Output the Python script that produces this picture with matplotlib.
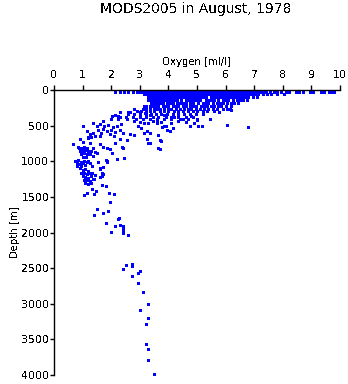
import matplotlib
matplotlib.use("Agg")
import matplotlib.pyplot as plt

plt.rcParams["font.family"] = ["DejaVu Sans"]
plt.rcParams["text.antialiased"] = False

# ---- Dissolved oxygen [ml/l] observed at near-regular depth levels (upper ocean) ----
o2_at_25m = [2.15, 2.3, 2.45, 2.6, 2.75, 2.9, 3.0, 3.1, 3.2, 3.3, 3.4, 3.5, 3.6, 3.7, 3.8,
             3.9, 4.0, 4.1, 4.2, 4.3, 4.4, 4.5, 4.6, 4.7, 4.8, 4.9, 5.0, 5.1, 5.2, 5.3,
             5.4, 5.5, 5.6, 5.7, 5.8, 5.9, 6.0, 6.1, 6.2, 6.3, 6.4, 6.5, 6.6, 6.7, 6.8,
             6.9, 7.0, 7.1, 7.2, 7.3, 7.4, 7.55, 7.7, 7.8, 7.95, 8.1, 8.2, 8.45, 8.55,
             8.7, 8.95, 9.05, 9.35, 9.45, 9.6, 9.7, 9.8]
o2_at_60m = [3.15, 3.25, 3.35, 3.45, 3.55, 3.65, 3.75, 3.85, 3.95, 4.05, 4.15, 4.25, 4.35,
             4.45, 4.55, 4.65, 4.75, 4.85, 4.95, 5.05, 5.15, 5.25, 5.35, 5.45, 5.55, 5.65,
             5.75, 5.85, 5.95, 6.05, 6.15, 6.25, 6.35, 6.45, 6.55, 6.65, 6.75, 6.85, 6.95,
             7.05, 7.15, 7.3, 7.45, 7.6, 7.8, 8.05]
o2_at_100m = [3.3, 3.4, 3.5, 3.6, 3.7, 3.8, 3.9, 4.0, 4.1, 4.2, 4.3, 4.4, 4.5, 4.6, 4.7,
              4.8, 4.9, 5.0, 5.1, 5.2, 5.3, 5.5, 5.6, 5.7, 5.8, 5.9, 6.0, 6.1, 6.2,
              6.3, 6.4, 6.5, 6.6, 6.7, 6.8, 6.95, 7.1]
o2_at_140m = [3.3, 3.4, 3.5, 3.6, 3.7, 3.8, 3.9, 4.0, 4.1, 4.2, 4.3, 4.45, 4.6, 4.7,
              4.8, 4.9, 5.0, 5.1, 5.3, 5.4, 5.5, 5.6, 5.75, 5.9, 6.0, 6.1, 6.25,
              6.4, 6.5, 6.6, 6.75]
o2_at_180m = [3.4, 3.5, 3.6, 3.7, 3.8, 3.95, 4.05, 4.15, 4.3, 4.4, 4.5, 4.6, 4.75,
              4.85, 5.05, 5.2, 5.3, 5.4, 5.55, 5.7, 5.8, 5.9, 6.05, 6.2, 6.3, 6.45]
o2_at_220m = [3.2, 3.35, 3.45, 3.55, 3.65, 3.8, 3.9, 4.0, 4.15, 4.25, 4.35, 4.5,
              4.6, 4.75, 4.85, 4.95, 5.15, 5.25, 5.35, 5.5, 5.6, 5.75, 5.85, 6.0, 6.2]
o2_at_260m = [3.1, 3.2, 3.35, 3.5, 3.6, 3.7, 3.85, 4.0, 4.1, 4.25, 4.4, 4.55,
              4.7, 4.8, 4.95, 5.1, 5.25, 5.4, 5.55, 5.7, 5.9]
o2_at_300m = [2.9, 3.05, 3.2, 3.35, 3.5, 3.7, 3.85, 4.0, 4.2, 4.35, 4.5, 4.7,
              4.85, 5.0, 5.2, 5.35, 5.6]
o2_at_340m = [2.6, 2.8, 3.0, 3.2, 3.4, 3.55, 3.75, 3.95, 4.15, 4.35, 4.55, 4.75, 4.95,
              5.2]
o2_at_375m = [2.3, 2.5, 2.75, 3.0, 3.2, 3.45, 3.65, 3.9, 4.1, 4.35, 4.6, 4.85]
o2_at_410m = [2.0, 2.25, 2.55, 2.85, 3.1, 3.35, 3.6, 3.85, 4.1, 4.4, 4.7, 5.0]

# ---- Scattered observations: oxygen [ml/l] and depth [m] ----
thermocline_o2 = [1.38, 1.73, 2.02, 2.25, 2.14, 2.31, 2.66, 2.78, 3.13, 2.6, 3.01, 3.19,
                  3.36, 3.6, 3.83, 1.6, 1.75, 1.9, 2.05, 2.2, 2.35, 1.7, 1.85, 2.0, 2.15,
                  2.3, 1.65, 1.95, 2.1, 2.4, 1.15, 1.5, 1.55, 1.6, 1.25, 1.35, 1.45, 1.2,
                  1.3, 1.03, 2.8, 3.0, 3.15, 3.3, 3.45, 3.6, 3.75, 2.95, 3.05, 3.25, 3.77,
                  3.95, 3.83, 4.04, 4.76, 5.05, 5.17, 6.05, 6.8, 5.46, 2.66, 2.8, 3.13,
                  3.36, 3.65, 3.25, 3.34, 3.75, 3.71, 3.69, 3.65, 3.3, 4.2, 4.5, 4.8, 5.0,
                  4.35, 4.6, 4.1, 4.9, 3.9, 4.15, 5.76, 6.16, 6.05, 6.2]
thermocline_depth = [469, 437, 366, 366, 352, 305, 305, 272, 221, 312, 312, 327, 351,
                     422, 351, 480, 500, 490, 520, 500, 480, 550, 570, 560, 590, 560,
                     600, 620, 640, 610, 573, 500, 560, 640, 620, 600, 650, 680, 660, 507,
                     430, 450, 470, 460, 440, 470, 450, 510, 530, 570, 516, 563, 512,
                     578, 512, 512, 512, 498, 515, 405, 615, 625, 610, 600, 625, 685,
                     741, 709, 704, 835, 821, 737, 380, 400, 370, 420, 430, 450, 470,
                     460, 500, 540, 304, 267, 267, 280]

intermediate_o2 = [0.65, 0.89, 0.97, 0.91, 1.03, 1.26, 1.20, 0.85, 0.95, 1.05, 1.15, 0.9,
                   1.0, 1.1, 1.2, 1.3, 0.95, 1.05, 1.15, 1.25, 1.0, 1.12, 1.35, 1.38,
                   1.61, 1.50, 1.73, 1.85, 1.96, 2.02, 2.22, 2.41, 2.55, 2.31, 2.14, 2.37,
                   1.45, 0.74, 0.8, 0.85, 0.9, 0.95, 1.0, 1.05, 1.1, 1.15, 0.82, 0.95,
                   1.2, 0.79, 1.26, 1.32, 1.55, 1.85, 1.82, 2.19, 2.45, 1.61, 1.73, 1.85]
intermediate_depth = [760, 820, 835, 681, 727, 750, 666, 800, 810, 800, 815, 850, 860,
                      845, 860, 850, 900, 890, 905, 895, 935, 940, 920, 812, 751, 891,
                      800, 815, 830, 891, 962, 821, 704, 694, 737, 807, 870, 1000, 1020,
                      985, 1040, 1005, 1030, 990, 1050, 1015, 1060, 1070, 1000, 1009,
                      1030, 1060, 1010, 990, 976, 962, 948, 1090, 1080, 1009]

deep_o2 = [0.92, 1.0, 1.1, 1.2, 0.95, 1.05, 1.15, 1.25, 1.0, 1.1, 1.2, 1.3, 1.05, 1.15,
           1.25, 1.1, 1.2, 1.3, 1.34, 1.44, 1.69, 1.69, 1.40, 1.69, 1.81, 1.38, 1.61,
           1.73, 1.61, 1.34, 1.47, 1.15, 1.05, 1.41, 1.94, 2.11, 1.97, 1.52, 1.73, 1.90,
           1.41, 2.28, 2.25, 1.81, 2.15, 2.30, 2.40, 2.40, 2.40, 2.40, 1.98, 2.60]
deep_depth = [1100, 1120, 1110, 1130, 1160, 1170, 1180, 1160, 1210, 1220, 1230, 1210,
              1260, 1270, 1280, 1310, 1320, 1300, 1164, 1197, 1160, 1206, 1253, 1328,
              1347, 1244, 1220, 1180, 1110, 1394, 1418, 1440, 1478, 1455, 1446, 1455,
              1567, 1666, 1722, 1694, 1750, 1793, 1806, 1863, 1910, 1891, 1915, 1947,
              1981, 2009, 1990, 2042]

abyssal_o2 = [2.51, 2.71, 2.71, 2.42, 3.02, 2.92, 2.71, 2.92, 3.11, 3.30, 3.01, 3.30,
              3.20, 3.20, 3.30, 3.30, 3.51]
abyssal_depth = [2455, 2440, 2475, 2510, 2535, 2572, 2610, 2708, 2835, 3004, 3088, 3200,
                 3285, 3570, 3637, 3792, 3980]

depth_ticks = [0, 500, 1000, 1500, 2000, 2500, 3000, 3500, 4000]
oxygen_ticks = [0, 1, 2, 3, 4, 5, 6, 7, 8, 9, 10]

level_rows = [(25, o2_at_25m), (60, o2_at_60m), (100, o2_at_100m), (140, o2_at_140m),
              (180, o2_at_180m), (220, o2_at_220m), (260, o2_at_260m), (300, o2_at_300m),
              (340, o2_at_340m), (375, o2_at_375m), (410, o2_at_410m)]

xs, ys = [], []
for d, row in level_rows:
    xs += row
    ys += [d] * len(row)
for ox, dp in [(thermocline_o2, thermocline_depth), (intermediate_o2, intermediate_depth),
               (deep_o2, deep_depth), (abyssal_o2, abyssal_depth)]:
    xs += ox
    ys += dp

fig = plt.figure(figsize=(3.48, 3.84), dpi=100)
ax = fig.add_axes([54 / 348, 1 - 375 / 384, 286 / 348, 285 / 384])
ax.plot(xs, ys, linestyle="none", marker="s", markersize=2.16, markeredgewidth=0,
        color="#0000ff", antialiased=False, zorder=1, clip_on=False)

ax.set_xlim(0, 10)
ax.set_ylim(4000, 0)
ax.set_xticks(oxygen_ticks)
ax.set_yticks(depth_ticks)
ax.set_xticklabels([str(t) for t in oxygen_ticks])
ax.set_yticklabels([str(t) for t in depth_ticks])

ax.xaxis.tick_top()
ax.xaxis.set_label_position("top")
for side in ("right", "bottom"):
    ax.spines[side].set_visible(False)
for side in ("left", "top"):
    ax.spines[side].set_linewidth(1.0)
    ax.spines[side].set_zorder(3)
ax.tick_params(axis="x", direction="out", length=3.6, width=1, pad=3.5, labelsize=7.8)
ax.tick_params(axis="y", direction="out", length=3.0, width=1, pad=0.5, labelsize=7.8)

ax.set_xlabel("Oxygen [ml/l]", fontsize=7.3, labelpad=4)
ax.set_ylabel("Depth [m]", fontsize=7.3, labelpad=1)
fig.text(196 / 348, 1 - 12.7 / 384, "MODS2005 in August, 1978", ha="center",
         va="baseline", fontsize=10)

fig.savefig("out.png", dpi=100)
